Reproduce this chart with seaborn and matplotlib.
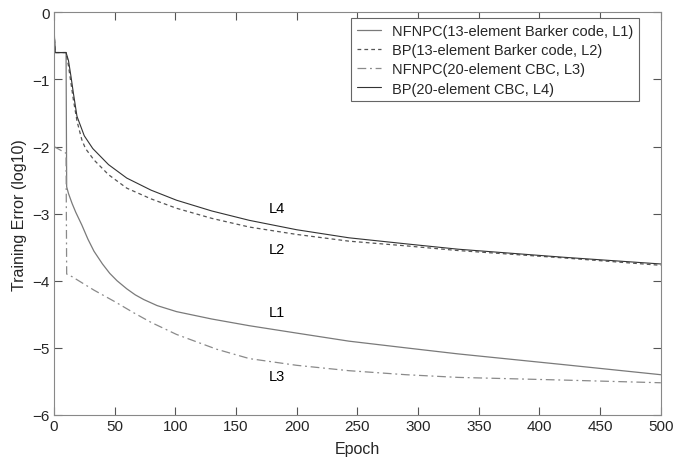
import matplotlib
matplotlib.use("Agg")
import matplotlib.pyplot as plt
import seaborn as sns
import pandas as pd

# ---- data ----
epochs_L1 = [0, 1, 10, 10.5, 12, 15, 18, 23, 28, 33, 40, 46, 52, 60, 67, 74, 85, 101, 130, 161, 200, 243, 290, 333, 420, 500]
err_L1 = [-0.2, -0.6, -0.6, -2.6, -2.7, -2.85, -2.98, -3.17, -3.38, -3.56, -3.75, -3.89, -4.0, -4.12, -4.21, -4.28, -4.37, -4.46, -4.57, -4.67, -4.78, -4.9, -5.0, -5.09, -5.25, -5.4]

epochs_L2 = [0, 1, 10, 12, 14, 16, 19, 23, 26, 33, 45, 60, 80, 101, 130, 161, 200, 243, 290, 333, 420, 500]
err_L2 = [-0.2, -0.6, -0.6, -0.8, -1.05, -1.3, -1.62, -1.9, -2.03, -2.2, -2.42, -2.62, -2.78, -2.92, -3.07, -3.2, -3.31, -3.41, -3.48, -3.55, -3.66, -3.77]

epochs_L3 = [0, 10, 10.5, 15, 33, 50, 66, 80, 101, 134, 161, 200, 243, 290, 333, 420, 500]
err_L3 = [-2.0, -2.1, -3.9, -3.94, -4.14, -4.31, -4.48, -4.62, -4.8, -5.02, -5.16, -5.26, -5.34, -5.4, -5.44, -5.48, -5.52]

epochs_L4 = [0, 1, 10, 12, 14, 16, 19, 25, 32, 45, 60, 80, 101, 130, 161, 200, 243, 290, 333, 420, 500]
err_L4 = [-0.2, -0.6, -0.6, -0.72, -0.95, -1.2, -1.55, -1.84, -2.03, -2.27, -2.47, -2.65, -2.8, -2.96, -3.1, -3.24, -3.36, -3.45, -3.53, -3.65, -3.75]

legend_labels = ["NFNPC(13-element Barker code, L1)",
                 "BP(13-element Barker code, L2)",
                 "NFNPC(20-element CBC, L3)",
                 "BP(20-element CBC, L4)"]
curve_tags = ["L1", "L2", "L3", "L4"]
tag_x = [177, 177, 177, 177]
tag_y = [-4.47, -3.53, -5.42, -2.91]

xticks = [0, 50, 100, 150, 200, 250, 300, 350, 400, 450, 500]
yticks = [0, -1, -2, -3, -4, -5, -6]

# ---- style ----
sns.set_theme(style="white")
plt.rcParams['font.family'] = ['Liberation Sans', 'DejaVu Sans']
plt.rcParams.update({
    "xtick.bottom": True, "xtick.top": True,
    "ytick.left": True, "ytick.right": True,
    "xtick.direction": "in", "ytick.direction": "in",
})

fig = plt.figure(figsize=(6.74, 4.6), dpi=100)
ax = fig.add_axes([0.080, 0.0957, 0.9005, 0.8754])

series = [
    (epochs_L1, err_L1, dict(color="#7a7a7a", linestyle="-", linewidth=0.9)),
    (epochs_L2, err_L2, dict(color="#555555", linestyle=(0, (3, 2.5)), linewidth=0.9)),
    (epochs_L3, err_L3, dict(color="#8a8a8a", linestyle=(0, (7, 3, 1.5, 3)), linewidth=0.9)),
    (epochs_L4, err_L4, dict(color="#333333", linestyle="-", linewidth=0.8)),
]
for (xs, ys, st), lab in zip(series, legend_labels):
    df = pd.DataFrame({"Epoch": xs, "err": ys})
    sns.lineplot(data=df, x="Epoch", y="err", ax=ax, sort=False, estimator=None,
                 label=lab, **st)

for t, tx, ty in zip(curve_tags, tag_x, tag_y):
    ax.text(tx, ty, t, fontsize=10.5, ha="left", va="center", color="black")

ax.set_xlim(0, 500)
ax.set_ylim(-6, 0)
ax.set_xticks(xticks)
ax.set_yticks(yticks)
ax.set_xlabel("Epoch", fontsize=11.5, labelpad=6)
ax.set_ylabel("Training Error (log10)", fontsize=11.5, labelpad=4)
ax.tick_params(axis="both", which="major", direction="in", length=6, width=0.8,
               color="#555555", labelsize=11, top=True, right=True,
               bottom=True, left=True, pad=3)
for sp in ax.spines.values():
    sp.set_color("#888888")
    sp.set_linewidth(0.8)

leg = ax.legend(loc="upper right", fontsize=10.5, frameon=True, fancybox=False,
                edgecolor="#666666", framealpha=1, handlelength=1.65,
                handletextpad=0.75, borderaxespad=0.0, labelspacing=0.36,
                borderpad=0.4,
                bbox_to_anchor=(639 / 674, 1 - 19 / 460),
                bbox_transform=fig.transFigure)
leg.get_frame().set_linewidth(0.8)

fig.savefig("out.png", dpi=100)
